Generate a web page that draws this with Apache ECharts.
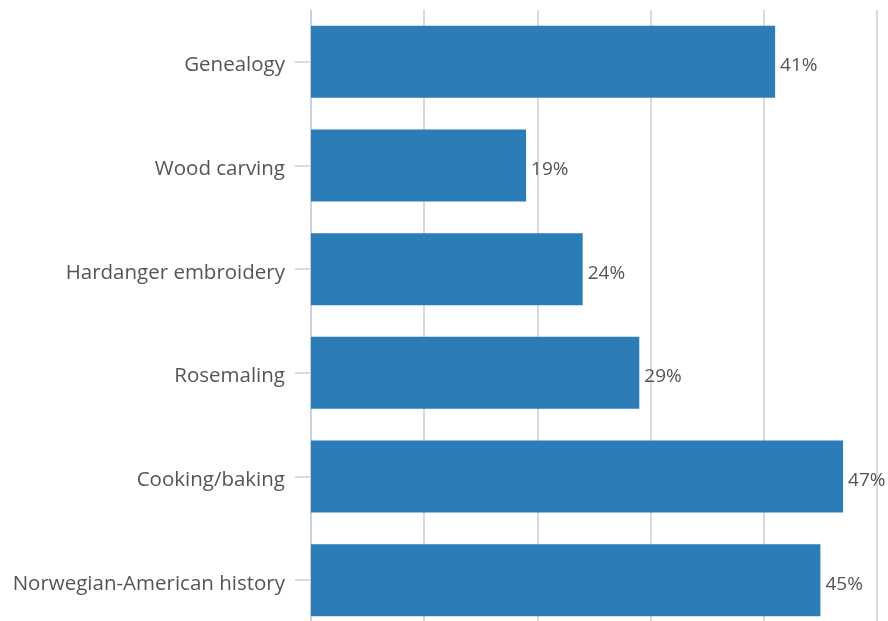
<!DOCTYPE html>
<html><head><meta charset="utf-8">
<script src="https://cdn.jsdelivr.net/npm/echarts@6/dist/echarts.min.js"></script>
<style>html,body{margin:0;padding:0;background:#fff;overflow:hidden}#c{width:888px;height:640px}</style>
</head><body><div id="c"></div>
<script>
const categories = ["Genealogy","Wood carving","Hardanger embroidery","Rosemaling","Cooking/baking","Norwegian-American history"];
const values = [41,19,24,29,47,45];
const xTicks = [0,10,20,30,40,50];

const txt = {color:'#555555', fontFamily:'"Open Sans", sans-serif'};
const chart = echarts.init(document.getElementById('c'), null, {renderer:'canvas'});
chart.setOption({
  animation:false,
  grid:{left:311, top:10, width:566, height:622, containLabel:false},
  xAxis:{type:'value', min:xTicks[0], max:xTicks[xTicks.length-1], interval:10,
    axisLabel:{show:false}, axisLine:{show:false}, axisTick:{show:false},
    splitLine:{show:true, lineStyle:{color:'#cccccc', width:1.5}}},
  yAxis:{type:'category', data:categories, inverse:true,
    axisLine:{show:true, lineStyle:{color:'#c3d2e2', width:1.5}},
    axisTick:{show:true, alignWithLabel:true, length:16, lineStyle:{color:'#c3d2e2', width:1.5}},
    axisLabel:{margin:26, formatter:'{a|{value}}',
      rich:{a:Object.assign({fontSize:20.5, padding:[7,0,0,0]}, txt)}}},
  series:[{type:'bar', data:values, barWidth:72,
    itemStyle:{color:'#2c7db7'},
    label:{show:true, position:'right', distance:5, formatter:'{a|{c}%}',
      rich:{a:Object.assign({fontSize:19, padding:[8,0,0,0]}, txt)}}}]
});
</script></body></html>
